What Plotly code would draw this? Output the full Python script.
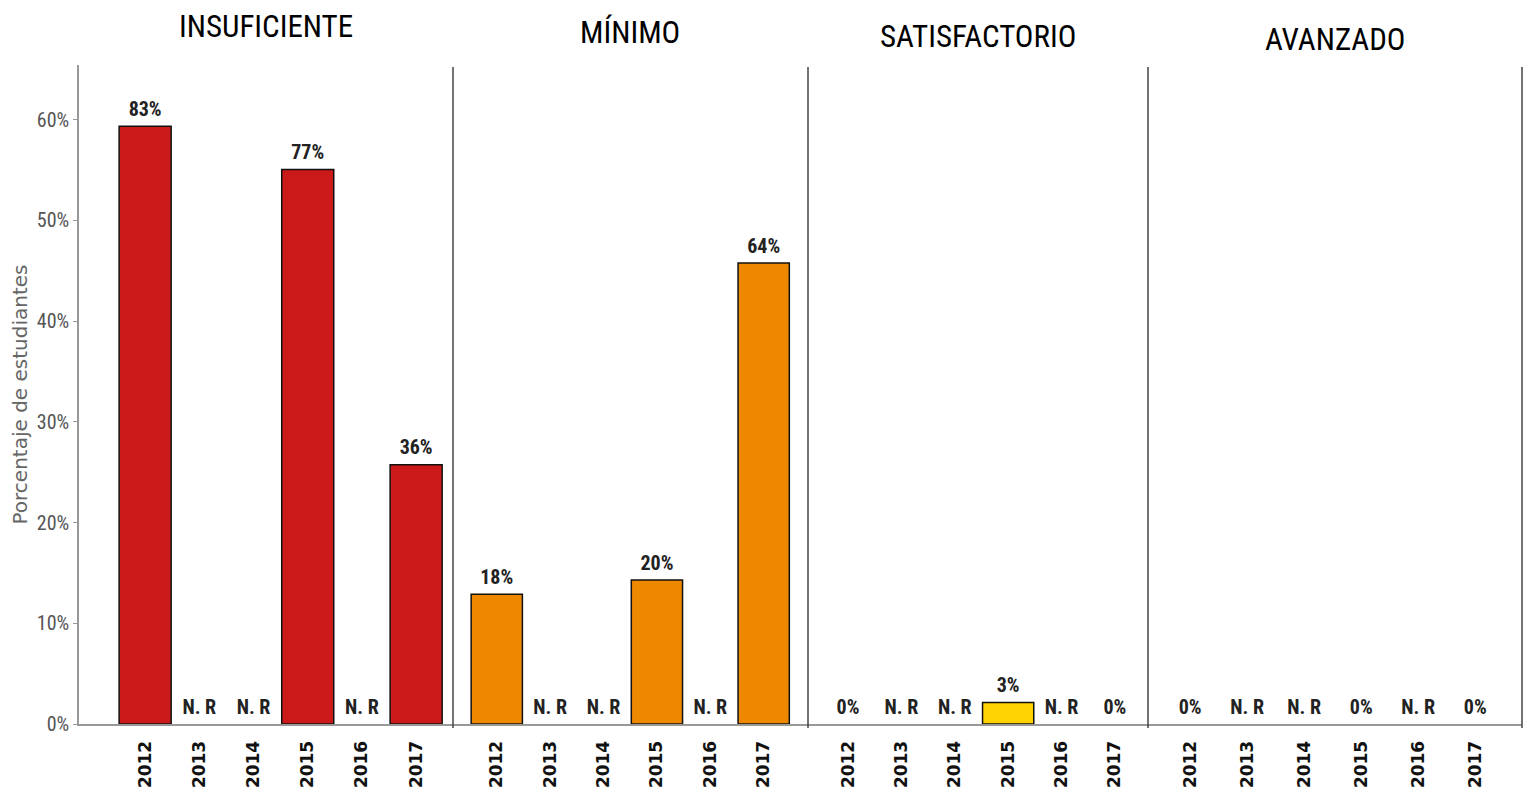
import plotly.graph_objects as go

# Performance levels and years
niveles = ["INSUFICIENTE", "MÍNIMO", "SATISFACTORIO", "AVANZADO"]
anios = ["2012", "2013", "2014", "2015", "2016", "2017"]

# Percentage of students per level (None = no result, "N. R")
insuficiente = [83, None, None, 77, None, 36]
minimo = [18, None, None, 20, None, 64]
satisfactorio = [0, None, None, 3, None, 0]
avanzado = [0, None, None, 0, None, 0]
valores = [insuficiente, minimo, satisfactorio, avanzado]

colores = ["#CC191A", "#EE8800", "#FFD200", "#FFD200"]

# Printed axis ticks (percent) and their placement on the value scale
ticks_pct = [0, 10, 20, 30, 40, 50, 60]
escala_eje = 0.715

W, H = 1534, 812
M_L, M_R, M_T, M_B = 79, 12, 65, 88
bordes_px = [79, 453, 808, 1148, 1522]
plot_w = W - M_L - M_R
dominios = [((bordes_px[i] - M_L) / plot_w, (bordes_px[i + 1] - M_L) / plot_w) for i in range(4)]
rangos_x = [[-1.22, 5.68], [-0.82, 5.83], [-0.75, 5.62], [-0.74, 5.82]]

NARROW = "Liberation Sans Narrow, Arial Narrow, Roboto Condensed, Liberation Sans, sans-serif"

fig = go.Figure()

for i, (nivel, vals) in enumerate(zip(niveles, valores)):
    xa = "x" if i == 0 else f"x{i + 1}"
    fig.add_trace(go.Bar(
        x=anios, y=vals, xaxis=xa, yaxis="y",
        marker=dict(color=colores[i],
                    line=dict(color="#111111", width=[1.5 if v else 0 for v in vals])),
        width=0.96, showlegend=False, hoverinfo="skip",
    ))
    etiquetas = ["N. R" if v is None else f"{v}%" for v in vals]
    # invisible markers lift the labels a few pixels above each bar
    fig.add_trace(go.Scatter(
        x=anios, y=[0 if v is None else v for v in vals], xaxis=xa, yaxis="y",
        mode="markers+text", text=etiquetas, textposition="top center",
        marker=dict(size=7, opacity=0),
        textfont=dict(family=NARROW, size=20, color="#222222", weight="bold"),
        cliponaxis=False, showlegend=False, hoverinfo="skip",
    ))

layout = dict(
    width=W, height=H,
    margin=dict(l=M_L, r=M_R, t=M_T, b=M_B),
    paper_bgcolor="white", plot_bgcolor="white",
    bargap=0.04,
    yaxis=dict(
        range=[0, 91.5],
        tickvals=[t / escala_eje for t in ticks_pct],
        ticktext=[f"{t}%" for t in ticks_pct],
        tickfont=dict(family=NARROW, size=20, color="#555555"),
        showline=True, linecolor="#999999", linewidth=1.5,
        ticks="outside", ticklen=4, tickcolor="#999999",
        showgrid=False, zeroline=False,
        title=dict(text="Porcentaje de estudiantes",
                   font=dict(family="DejaVu Sans", size=20, color="#666666"),
                   standoff=4),
    ),
)

for i in range(4):
    key = "xaxis" if i == 0 else f"xaxis{i + 1}"
    layout[key] = dict(
        domain=list(dominios[i]), anchor="y", type="category",
        categoryorder="array", categoryarray=anios,
        range=rangos_x[i],
        showline=True, linecolor="#999999", linewidth=2,
        ticks="", showgrid=False, zeroline=False,
        tickangle=-90, ticklabelstandoff=8,
        tickfont=dict(family="DejaVu Sans", size=17, color="#111111", weight="bold"),
    )

fig.update_layout(**layout)

# Panel separators
for xp in bordes_px[1:]:
    fig.add_shape(type="line", xref="paper", yref="paper",
                  x0=(xp - M_L) / plot_w, x1=(xp - M_L) / plot_w, y0=-0.006, y1=0.997,
                  line=dict(color="#444444", width=1.5))

# Panel titles
titulo_y = [1.059, 1.049, 1.044, 1.038]
for i, nivel in enumerate(niveles):
    fig.add_annotation(
        text=nivel, xref="paper", yref="paper",
        x=(dominios[i][0] + dominios[i][1]) / 2, y=titulo_y[i],
        xanchor="center", yanchor="middle", showarrow=False,
        font=dict(family=NARROW, size=31, color="#000000"),
    )

fig.write_html("out.html")
